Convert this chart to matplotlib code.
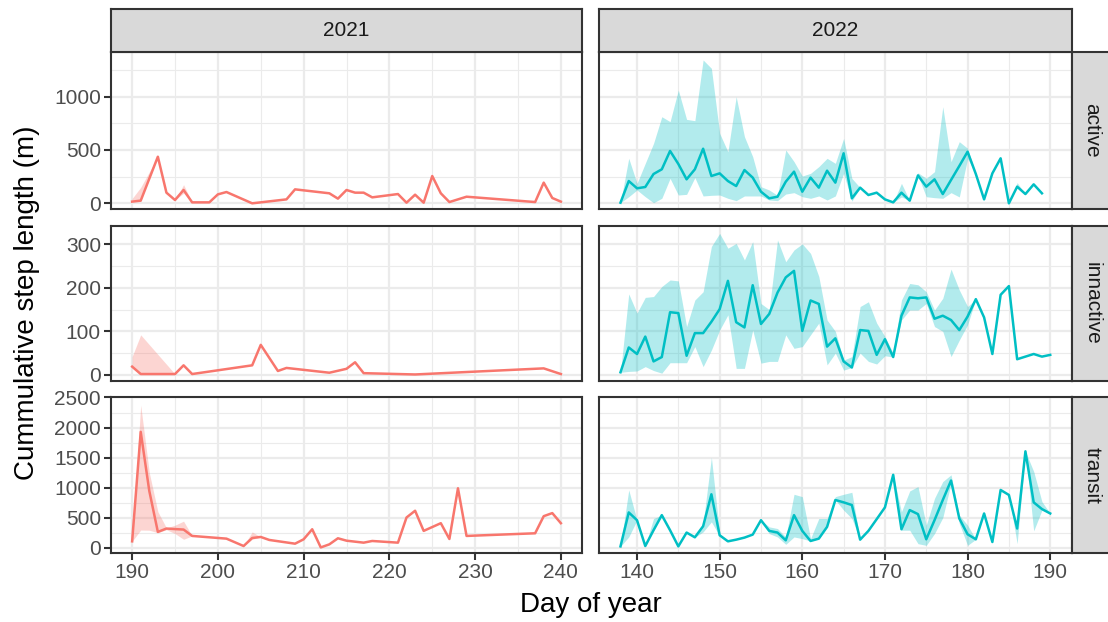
import numpy as np
import matplotlib
matplotlib.use("Agg")
import matplotlib.pyplot as plt
from matplotlib.ticker import MultipleLocator

plt.rcParams['font.family'] = ['Liberation Sans', 'DejaVu Sans']

RED = '#F8766D'
TEAL = '#00BFC4'

# ---- active ----
act21_day = [190, 191, 193, 194, 195, 196, 197, 199, 200, 201, 204, 208, 209, 213, 214, 215,
             216, 217, 218, 221, 222, 223, 224, 225, 226, 227, 229, 237, 238, 239, 240]
act21_val = [16, 25, 437, 100, 31, 125, 9, 9, 84, 106, 0, 37, 131, 94, 44, 125,
             100, 100, 56, 87, 6, 81, 6, 256, 94, 12, 62, 12, 194, 50, 16]
act21_lo = [16, 25, 437, 100, 31, 95, 9, 9, 84, 106, 0, 37, 131, 94, 44, 125,
            100, 100, 56, 87, 6, 81, 6, 256, 94, 12, 62, 12, 194, 50, 16]
act21_hi = [45, 150, 437, 100, 31, 175, 9, 9, 84, 106, 0, 37, 131, 94, 44, 125,
            100, 100, 56, 87, 6, 81, 6, 256, 94, 12, 62, 12, 194, 50, 16]

act22_day = list(range(138, 190))
act22_val = [6, 209, 141, 153, 275, 319, 491, 369, 225, 319, 512, 256, 281, 209, 162, 312,
             241, 109, 47, 62, 203, 297, 109, 241, 147, 306, 194, 469, 47, 147, 78, 100,
             37, 9, 100, 25, 262, 156, 225, 87, 219, 350, 484, 275, 37, 281, 422, 0,
             156, 87, 178, 94]
act22_lo = [6, 62, 125, 62, 6, 47, 234, 78, 84, 241, 69, 75, 78, 47, 25, 69,
            69, 69, 31, 25, 87, 100, 62, 47, 69, 31, 69, 281, 20, 147, 78, 100,
            37, 9, 60, 25, 262, 62, 53, 47, 100, 60, 420, 275, 37, 281, 422, 0,
            156, 87, 178, 94]
act22_hi = [6, 422, 187, 375, 562, 812, 766, 1062, 787, 775, 1344, 1266, 656, 484, 1000, 625,
            437, 156, 125, 75, 500, 391, 256, 281, 344, 422, 375, 609, 234, 147, 78, 100,
            37, 9, 187, 25, 287, 234, 297, 906, 391, 578, 516, 275, 37, 281, 422, 0,
            194, 87, 178, 94]

# ---- innactive ----
inn21_day = [190, 191, 195, 196, 197, 204, 205, 207, 208, 213, 215, 216, 217, 223, 238, 240]
inn21_val = [19, 2, 2, 22, 2, 22, 69, 9, 16, 5, 14, 29, 4, 1, 15, 2]
inn21_lo = [19, 2, 2, 22, 2, 22, 69, 9, 16, 5, 14, 29, 4, 1, 15, 2]
inn21_hi = [42, 92, 2, 22, 2, 22, 69, 9, 16, 5, 14, 29, 4, 1, 15, 2]

inn22_day = list(range(138, 191))
inn22_val = [6, 63, 48, 88, 31, 41, 144, 142, 44, 96, 96, 122, 151, 216, 121, 109,
             206, 117, 140, 189, 224, 239, 101, 171, 163, 65, 84, 31, 17, 103, 101, 46,
             82, 41, 136, 178, 176, 178, 129, 136, 126, 103, 134, 174, 132, 48, 184, 204,
             36, 42, 48, 42, 46]
inn22_lo = [6, 8, 9, 19, 10, 4, 28, 28, 28, 65, 19, 57, 103, 138, 15, 15,
            103, 27, 31, 31, 92, 61, 65, 92, 119, 23, 50, 11, 17, 50, 31, 25,
            44, 41, 126, 149, 149, 164, 111, 100, 42, 80, 115, 174, 132, 48, 184, 204,
            36, 42, 48, 42, 46]
inn22_hi = [6, 186, 142, 178, 180, 203, 218, 216, 111, 172, 191, 295, 325, 291, 302, 264,
            306, 164, 150, 310, 260, 287, 301, 279, 226, 126, 100, 34, 42, 157, 168, 119,
            88, 50, 172, 210, 207, 191, 149, 176, 243, 195, 157, 174, 132, 48, 184, 204,
            36, 42, 48, 42, 46]

# ---- transit ----
tra21_day = [190, 191, 192, 193, 194, 195, 196, 197, 201, 203, 204, 205, 206, 209, 210, 211, 212,
             213, 214, 215, 217, 218, 221, 222, 223, 224, 226, 227, 228, 229, 237, 238, 239, 240]
tra21_val = [106, 1928, 945, 263, 319, 310, 302, 196, 151, 28, 162, 179, 129, 67, 140, 307, 5,
             56, 157, 117, 84, 112, 84, 503, 615, 280, 408, 145, 989, 196, 240, 525, 576, 408]
tra21_lo = [106, 294, 291, 250, 300, 235, 140, 196, 151, 28, 140, 179, 129, 67, 140, 307, 5,
            56, 157, 117, 84, 112, 84, 503, 615, 280, 408, 145, 989, 196, 240, 525, 576, 408]
tra21_hi = [106, 2372, 1250, 600, 330, 375, 442, 196, 151, 28, 263, 179, 129, 67, 140, 307, 5,
            56, 157, 117, 84, 112, 84, 503, 615, 280, 408, 145, 989, 196, 240, 525, 576, 408]

tra22_day = list(range(138, 191))
tra22_val = [22, 587, 458, 28, 291, 542, 291, 22, 252, 173, 358, 889, 207, 106, 134, 168,
             218, 458, 280, 252, 123, 542, 280, 112, 151, 347, 794, 755, 710, 134, 280, 475,
             671, 1213, 307, 626, 559, 140, 458, 794, 1118, 486, 224, 140, 570, 95, 961, 878,
             319, 1604, 755, 643, 570]
tra22_lo = [22, 179, 458, 28, 291, 542, 291, 22, 252, 173, 263, 430, 196, 106, 134, 168,
            218, 458, 235, 179, 56, 179, 151, 112, 151, 347, 794, 626, 486, 134, 280, 475,
            671, 1213, 291, 291, 67, 39, 235, 500, 1073, 402, 39, 140, 570, 95, 961, 878,
            67, 1604, 280, 626, 570]
tra22_hi = [22, 961, 458, 28, 486, 542, 291, 22, 252, 173, 400, 1504, 235, 106, 134, 168,
            218, 458, 347, 319, 179, 889, 850, 151, 486, 486, 850, 889, 922, 134, 280, 475,
            671, 1213, 598, 945, 1017, 375, 822, 1101, 1213, 542, 375, 140, 570, 95, 961, 878,
            319, 1604, 1269, 766, 570]

years = ['2021', '2022']
states = ['active', 'innactive', 'transit']
panels = {
    ('active', '2021'): (act21_day, act21_val, act21_lo, act21_hi),
    ('active', '2022'): (act22_day, act22_val, act22_lo, act22_hi),
    ('innactive', '2021'): (inn21_day, inn21_val, inn21_lo, inn21_hi),
    ('innactive', '2022'): (inn22_day, inn22_val, inn22_lo, inn22_hi),
    ('transit', '2021'): (tra21_day, tra21_val, tra21_lo, tra21_hi),
    ('transit', '2022'): (tra22_day, tra22_val, tra22_lo, tra22_hi),
}
colours = {'2021': RED, '2022': TEAL}
ylims = {'active': (-56, 1416), 'innactive': (-14, 342), 'transit': (-93, 2503)}
ymajor = {'active': 500, 'innactive': 100, 'transit': 500}
xlims = {'2021': (187.5, 242.5), '2022': (135.4, 192.6)}

W, H = 1108, 622
fig = plt.figure(figsize=(W / 100, H / 100), dpi=100)

def rect(x0, y0, x1, y1):
    return [x0 / W, 1 - y1 / H, (x1 - x0) / W, (y1 - y0) / H]

colx = {'2021': (110.7, 582.3), '2022': (599, 1071.7)}
rowy = {'active': (52.3, 209.3), 'innactive': (226, 381), 'transit': (397.3, 553.3)}
border = '#333333'
tick_col = '#4D4D4D'

for r, st in enumerate(states):
    for c, yr in enumerate(years):
        x0, x1 = colx[yr]
        y0, y1 = rowy[st]
        ax = fig.add_axes(rect(x0, y0, x1, y1))
        day, val, lo, hi = panels[(st, yr)]
        ax.fill_between(day, lo, hi, color=colours[yr], alpha=0.3, linewidth=0)
        ax.plot(day, val, color=colours[yr], lw=1.8)
        ax.set_xlim(*xlims[yr])
        ax.set_ylim(*ylims[st])
        ax.xaxis.set_major_locator(MultipleLocator(10))
        ax.xaxis.set_minor_locator(MultipleLocator(5))
        ax.yaxis.set_major_locator(MultipleLocator(ymajor[st]))
        ax.yaxis.set_minor_locator(MultipleLocator(ymajor[st] / 2))
        ax.grid(which='major', color='#EBEBEB', lw=1.6)
        ax.grid(which='minor', color='#EBEBEB', lw=0.8)
        ax.set_axisbelow(True)
        for s in ax.spines.values():
            s.set_color(border)
            s.set_linewidth(1.5)
        ax.tick_params(which='minor', length=0)
        ax.tick_params(which='major', length=5, width=1.5, color=border,
                       labelsize=15, labelcolor=tick_col, pad=2)
        if c == 1:
            ax.tick_params(axis='y', left=False, labelleft=False)
        if r < 2:
            ax.tick_params(axis='x', bottom=False, labelbottom=False)

        if c == 1:
            sax = fig.add_axes(rect(1071.7, y0, 1114, y1))
            sax.set_facecolor('#D9D9D9')
            sax.set_xticks([])
            sax.set_yticks([])
            for s in sax.spines.values():
                s.set_color(border)
                s.set_linewidth(1.5)
            sax.text(0.48, 0.5, st, rotation=-90, ha='center', va='center',
                     fontsize=15, color='#1A1A1A', transform=sax.transAxes)
        if r == 0:
            tax = fig.add_axes(rect(x0, 9.3, x1, 52.3))
            tax.set_facecolor('#D9D9D9')
            tax.set_xticks([])
            tax.set_yticks([])
            for s in tax.spines.values():
                s.set_color(border)
                s.set_linewidth(1.5)
            tax.text(0.5, 0.5, yr, ha='center', va='center',
                     fontsize=15, color='#1A1A1A', transform=tax.transAxes)

fig.text(27 / W, 1 - 303 / H, 'Cummulative step length (m)', rotation=90,
         ha='center', va='center', fontsize=20)
fig.text(591 / W, 1 - 605 / H, 'Day of year', ha='center', va='center', fontsize=20)

fig.savefig('out.png', dpi=100)
